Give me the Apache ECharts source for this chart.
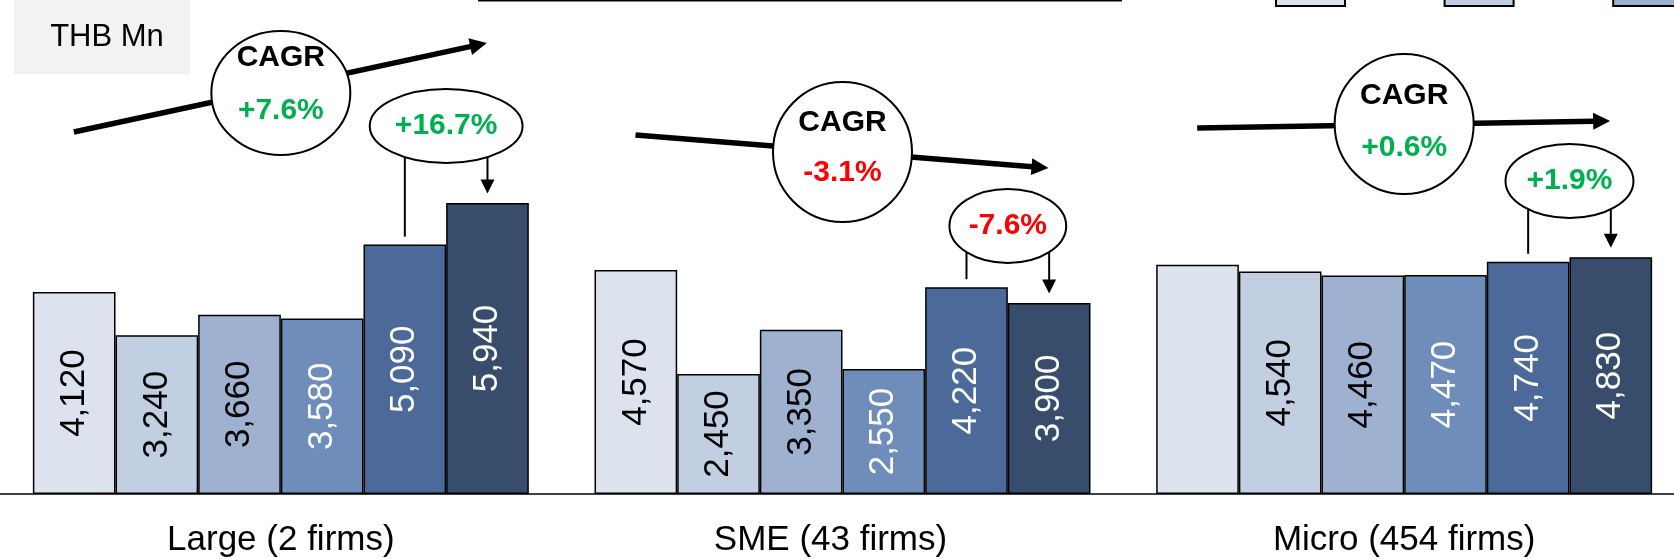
<!DOCTYPE html>
<html><head><meta charset="utf-8">
<script src="https://cdn.jsdelivr.net/npm/echarts@6/dist/echarts.min.js"></script>
<style>html,body{margin:0;padding:0;background:#fff;overflow:hidden}#c{width:1685px;height:559px}</style>
</head><body><div id="c"></div>
<script>
// ---------- data ----------
const categories = ['Large (2 firms)', 'SME (43 firms)', 'Micro (454 firms)'];
const years = ['Year 1', 'Year 2', 'Year 3', 'Year 4', 'Year 5', 'Year 6'];
const largeValues = [4120, 3240, 3660, 3580, 5090, 5940];
const smeValues = [4570, 2450, 3350, 2550, 4220, 3900];
const microValues = [4680, 4540, 4460, 4470, 4740, 4830];
const hiddenLabels = [[2, 0]];            // [category, year] drawn without a value label
const cagrLabels = ['+7.6%', '-3.1%', '+0.6%'];
const yoyLabels = ['+16.7%', '-7.6%', '+1.9%'];
const unitLabel = 'THB Mn';

// ---------- styles / layout ----------
const palette = ['#DCE3EE', '#C2CEE1', '#9EB1D0', '#6E8DBA', '#4B6A99', '#384D6C'];
const labelColors = ['#000', '#000', '#000', '#fff', '#fff', '#fff'];
const GREEN = '#00B050', RED = '#FF0000';
const FONT = '"Liberation Sans", Arial, sans-serif';
// annotation placement (pixels)
const cagrLayout = [
  { cy: 93, ry: 62, y0: 132, y1: 43, t1: 58, t2: 111 },
  { cy: 152, ry: 70, y0: 135, y1: 168, t1: 123, t2: 173 },
  { cy: 124, ry: 70, y0: 128, y1: 121, t1: 96, t2: 148 }
];
const yoyCenterY = [126, 226, 181];
const catLabelPad = [[0, 0, 0, 0], [0, 24, 0, 0], [0, 0, 0, 0]];

const groups = [largeValues, smeValues, microValues];
const isHidden = (ci, si) => hiddenLabels.some(h => h[0] === ci && h[1] === si);
const fmt = v => String(v).replace(/\B(?=(\d{3})+(?!\d))/g, ',');

const series = years.map((name, si) => ({
  name, type: 'bar', barGap: '0%', barCategoryGap: '11.7%',
  itemStyle: { color: palette[si], borderColor: '#000', borderWidth: 1.5 },
  label: {
    show: true, position: 'inside', rotate: 90, fontSize: 35, fontFamily: FONT,
    color: labelColors[si], formatter: p => fmt(p.value)
  },
  emphasis: { disabled: true },
  data: groups.map((g, ci) => isHidden(ci, si) ? { value: g[si], label: { show: false } } : g[si])
}));

const chart = echarts.init(document.getElementById('c'), null, { renderer: 'canvas' });
chart.setOption({
  animation: false,
  backgroundColor: '#fff',
  grid: { left: 0, right: 0, top: 4, bottom: 65, containLabel: false },
  xAxis: {
    type: 'category',
    data: categories.map((c, i) => ({ value: c, textStyle: { padding: catLabelPad[i] } })),
    axisLine: { lineStyle: { color: '#000', width: 1.5 } },
    axisTick: { show: false },
    axisLabel: { fontSize: 35, color: '#000', fontFamily: FONT, margin: 29 }
  },
  yAxis: { type: 'value', min: 0, max: 10000, show: false, splitLine: { show: false } },
  series
});

// ---------- annotations ----------
const ctx = document.createElement('canvas').getContext('2d');
function textW(t, font) { ctx.font = font; return ctx.measureText(t).width; }
function barRect(si, ci) {
  return chart.getModel().getSeriesByIndex(si).getData().getItemLayout(ci);
}
function arrow(x0, y0, x1, y1, w, head, hw) {
  const dx = x1 - x0, dy = y1 - y0, L = Math.hypot(dx, dy), ux = dx / L, uy = dy / L;
  const bx = x1 - ux * head, by = y1 - uy * head;
  return [
    { type: 'line', shape: { x1: x0, y1: y0, x2: bx + ux * 1, y2: by + uy * 1 }, style: { stroke: '#000', lineWidth: w }, z: 10 },
    { type: 'polygon', shape: { points: [[x1, y1], [bx - uy * hw, by + ux * hw], [bx + uy * hw, by - ux * hw]] }, style: { fill: '#000' }, z: 10 }
  ];
}
function txt(t, x, y, size, weight, color) {
  return {
    type: 'text', x, y, z: 20,
    style: { text: t, fontSize: size, fontWeight: weight, fontFamily: FONT, fill: color,
      align: 'center', verticalAlign: 'middle', textAlign: 'center', textVerticalAlign: 'middle' }
  };
}

const els = [];
// unit box
els.push({ type: 'rect', shape: { x: 14, y: 0, width: 176, height: 74 }, style: { fill: '#F2F2F2' }, z: 5 });
els.push(txt(unitLabel, 107, 37, 31, 'normal', '#000'));
// cut-off header line and legend swatches at the top edge
els.push({ type: 'line', shape: { x1: 478, y1: 0.5, x2: 1122, y2: 0.5 }, style: { stroke: '#000', lineWidth: 2 }, z: 5 });
for (let i = 0; i < 3; i++) {
  els.push({ type: 'rect', shape: { x: 1276 + i * 168.6, y: -30, width: 69, height: 36 },
    style: { fill: palette[i], stroke: '#000', lineWidth: 2 }, z: 5 });
}

categories.forEach((c, ci) => {
  const cx = chart.convertToPixel({ xAxisIndex: 0 }, ci);
  const L = cagrLayout[ci];
  // CAGR trend arrow + bubble
  els.push(...arrow(cx - 207, L.y0, cx + 206, L.y1, 5.5, 17, 8.5));
  els.push({ type: 'ellipse', shape: { cx, cy: L.cy, rx: 69.5, ry: L.ry },
    style: { fill: '#fff', stroke: '#000', lineWidth: 2 }, z: 15 });
  els.push(txt('CAGR', cx, L.t1, 30, 'bold', '#000'));
  const up = cagrLabels[ci].startsWith('+');
  els.push(txt(cagrLabels[ci], cx, L.t2, 30, 'bold', up ? GREEN : RED));

  // last-year growth bubble
  const b5 = barRect(4, ci), b6 = barRect(5, ci);
  const x5 = b5.x + b5.width / 2, x6 = b6.x + b6.width / 2;
  const top5 = Math.min(b5.y, b5.y + b5.height), top6 = Math.min(b6.y, b6.y + b6.height);
  const ex = (x5 + x6) / 2, ey = yoyCenterY[ci];
  const rx = textW(yoyLabels[ci], 'bold 30px ' + FONT) * 0.745, ry = 37;
  const edge = x => ey + ry * Math.sqrt(Math.max(0, 1 - Math.pow((x - ex) / rx, 2)));
  els.push({ type: 'line', shape: { x1: x5, y1: edge(x5), x2: x5, y2: top5 - 8 }, style: { stroke: '#000', lineWidth: 2 }, z: 10 });
  els.push(...arrow(x6, edge(x6), x6, top6 - 9.5, 2, 14, 7));
  els.push({ type: 'ellipse', shape: { cx: ex, cy: ey, rx, ry },
    style: { fill: '#fff', stroke: '#000', lineWidth: 2 }, z: 15 });
  const upY = yoyLabels[ci].startsWith('+');
  els.push(txt(yoyLabels[ci], ex, ey, 30, 'bold', upY ? GREEN : RED));
});

chart.setOption({ graphic: { elements: els } });
</script>
</body></html>
